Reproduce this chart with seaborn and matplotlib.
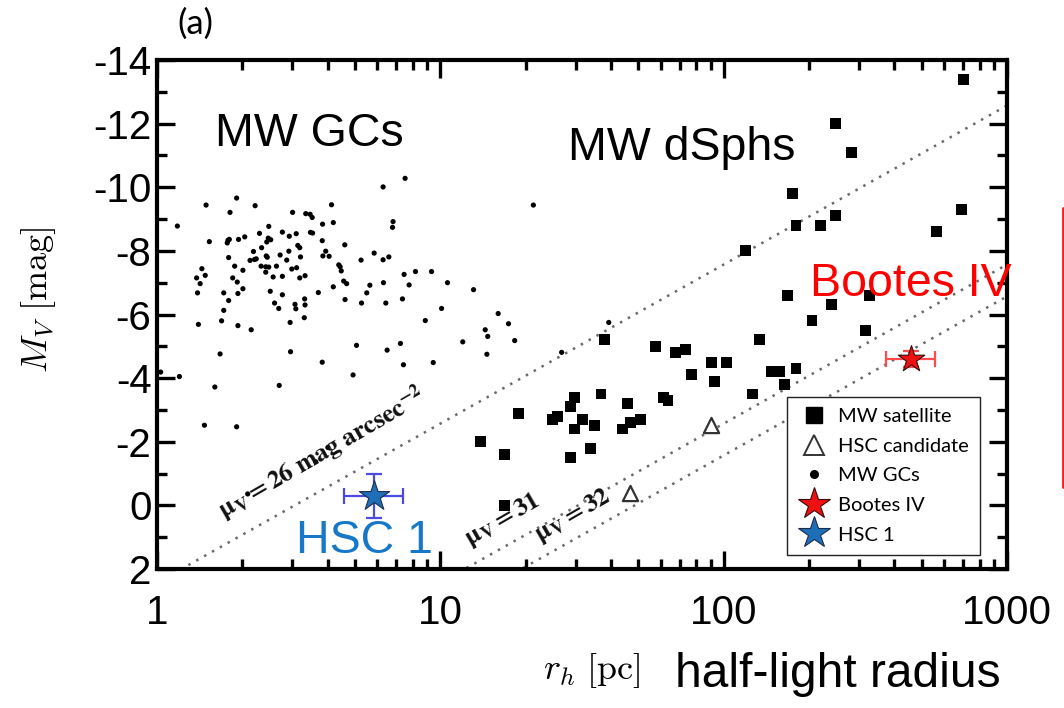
import numpy as np
import pandas as pd
import matplotlib
matplotlib.use("Agg")
import matplotlib.pyplot as plt
import seaborn as sns
from matplotlib.lines import Line2D
from matplotlib.ticker import FixedLocator, FixedFormatter, MultipleLocator, NullFormatter

# ---------------- data ----------------
sat_rh = [704, 249, 282, 175, 248, 691, 180, 220, 562, 119, 168, 327, 241, 317,
          37.9, 57.6, 67.6, 73.5, 90.3, 102.4, 77.2, 92.5, 134, 205, 147, 158, 180,
          164, 126, 61.4, 63.6, 18.9, 29.8, 36.9, 28.7, 26.0, 24.9, 31.8, 29.8, 34.9,
          45.8, 43.8, 46.9, 50.8, 33.8, 28.7, 13.9, 16.9, 16.9]
sat_mv = [-13.4, -12.0, -11.1, -9.8, -9.1, -9.3, -8.8, -8.8, -8.6, -8.0, -6.6, -6.6, -6.3, -5.5,
          -5.2, -5.0, -4.8, -4.9, -4.5, -4.5, -4.1, -3.9, -5.2, -5.8, -4.2, -4.2, -4.3,
          -3.8, -3.5, -3.4, -3.3, -2.9, -3.4, -3.5, -3.1, -2.8, -2.7, -2.7, -2.4, -2.5,
          -3.2, -2.4, -2.6, -2.7, -1.8, -1.5, -2.0, -1.6, 0.0]

cand_rh = [89.9, 46.7]
cand_mv = [-2.52, -0.39]

gc_rh = [1.18, 1.49, 1.91, 1.81, 2.22, 1.53, 1.78, 1.77, 1.80, 1.94, 2.04, 1.79, 1.88, 2.01,
         1.44, 1.38, 1.48, 1.42, 1.39, 1.85, 1.92, 2.01, 1.93, 1.79, 1.72, 1.72, 1.69, 1.40,
         1.93, 2.15, 2.30, 2.48, 2.52, 2.47, 2.44, 2.34, 2.19, 2.13, 2.21, 2.24, 2.43, 2.45,
         2.33, 2.42, 2.48, 2.42, 2.57, 2.51, 2.60, 2.69, 2.64, 2.72, 2.77, 2.77, 2.87, 2.77,
         2.93, 2.92, 3.10, 3.14, 3.19, 3.21, 2.99, 3.11, 3.19, 3.33, 3.01, 3.35, 3.47, 3.53,
         3.48, 3.54, 3.84, 4.13, 4.19, 3.83, 3.94, 3.85, 4.05, 4.60, 5.25, 4.38, 4.43, 4.47,
         4.56, 4.67, 4.19, 3.71, 3.32, 3.33, 3.07, 3.09, 3.31, 2.95, 4.61, 5.27, 5.50, 5.64,
         5.06,
         6.28, 7.51, 6.81, 6.78, 21.3, 5.84, 6.28, 6.58, 7.45, 8.17, 9.31, 6.30, 7.76, 10.6,
         13.1, 6.42, 7.35, 10.1, 8.85,
         16.0, 17.4, 14.4, 14.7, 12.0, 18.3, 14.6, 9.44, 39.3, 26.8,
         1.67, 2.96, 3.83, 4.92, 6.49, 7.23, 7.41, 1.03, 1.20, 1.60, 2.70, 1.47, 1.91, 4.01,
         3.63, 2.09]
gc_mv = [-8.78, -9.44, -9.66, -9.21, -9.42, -8.29, -8.33, -8.25, -8.36, -8.36, -8.44, -7.79, -7.52, -7.39,
         -7.44, -7.15, -7.23, -6.97, -6.68, -7.15, -7.02, -6.81, -6.66, -6.44, -6.68, -6.13, -5.80, -5.69,
         -5.65, -5.52, -8.55, -8.77, -8.35, -8.40, -8.28, -8.10, -7.98, -7.70, -7.73, -7.75, -7.84, -7.80,
         -7.52, -7.50, -7.49, -7.33, -7.18, -6.73, -6.36, -6.19, -7.52, -7.87, -7.20, -6.62, -7.71, -8.59,
         -8.46, -7.99, -8.54, -8.17, -8.10, -7.81, -7.43, -7.47, -7.15, -7.22, -9.21, -9.17, -9.15, -9.05,
         -8.58, -8.56, -8.84, -9.45, -8.89, -8.32, -7.99, -7.84, -7.83, -8.19, -7.71, -7.56, -7.50, -7.37,
         -7.05, -6.97, -6.87, -6.69, -6.49, -6.30, -6.32, -6.18, -5.90, -5.75, -6.47, -6.36, -6.68, -6.92,
         -5.03,
         -10.01, -10.28, -8.92, -8.74, -9.44, -7.93, -7.72, -7.81, -7.26, -7.35, -7.35, -7.0, -6.93, -7.0,
         -6.78, -6.36, -6.49, -6.19, -5.81,
         -6.03, -5.71, -5.52, -5.31, -5.14, -5.18, -4.75, -4.49, -5.75, -4.81,
         -4.76, -4.83, -4.50, -4.10, -4.88, -5.09, -4.42, -4.19, -4.05, -3.72, -3.77, -2.52, -2.47, -1.82,
         -1.37, -0.36]

boo_rh = [460]
boo_mv = [-4.6]
boo_rh_lo = [374]
boo_rh_hi = [558]
boo_mv_err = [0.25]

hsc_rh = [5.82]
hsc_mv = [-0.3]
hsc_rh_lo = [4.58]
hsc_rh_hi = [7.40]
hsc_mv_err = [0.7]

mu_levels = [26, 31, 32]
mu_zero = 23.57          # mu = M + 23.57 + 5 log10(r_h / pc)

x_ticks = [1, 10, 100, 1000]
x_ticklabels = ["1", "10", "100", "1000"]
y_ticks = [-14, -12, -10, -8, -6, -4, -2, 0, 2]
y_ticklabels = ["-14", "-12", "-10", "-8", "-6", "-4", "-2", "0", "2"]

# ---------------- style ----------------
sns.set_style("ticks")
plt.rcParams["font.family"] = ["Liberation Sans", "DejaVu Sans"]
plt.rcParams["mathtext.fontset"] = "cm"
plt.rcParams["axes.unicode_minus"] = False
plt.rcParams["text.color"] = "black"
plt.rcParams["xtick.color"] = "black"
plt.rcParams["ytick.color"] = "black"
plt.rcParams["axes.labelcolor"] = "black"

W, H = 1064, 708
fig = plt.figure(figsize=(W / 100, H / 100), dpi=100)
fig.patch.set_facecolor("white")
ax = fig.add_axes([157 / W, 1 - 569 / H, (1007 - 157) / W, (569 - 60) / H])


def ftext(x, y, s, **kw):
    return fig.text(x / W, 1 - y / H, s, **kw)


# ---------------- constant surface-brightness lines ----------------
r_line = np.logspace(0, 3, 300)
for mu in mu_levels:
    df_line = pd.DataFrame({"r": r_line, "M": mu - mu_zero - 5 * np.log10(r_line)})
    sns.lineplot(data=df_line, x="r", y="M", ax=ax, color="#6a6a6a", lw=1.8,
                 linestyle=(0, (1, 2.6)), legend=False, zorder=1)

# ---------------- points ----------------
sns.scatterplot(x=gc_rh, y=gc_mv, marker="o", s=14, color="black", edgecolor="none",
                ax=ax, legend=False, zorder=3)
sns.scatterplot(x=sat_rh, y=sat_mv, marker="s", s=62, color="black", edgecolor="none",
                ax=ax, legend=False, zorder=3)
sns.scatterplot(x=cand_rh, y=cand_mv, marker="^", s=120, color="white", edgecolor="#333333",
                linewidth=1.6, ax=ax, legend=False, zorder=3)

ax.errorbar(hsc_rh, hsc_mv,
            xerr=[[hsc_rh[0] - hsc_rh_lo[0]], [hsc_rh_hi[0] - hsc_rh[0]]],
            yerr=[hsc_mv_err], fmt="none", ecolor="#4a4ae6", elinewidth=1.6,
            capsize=6, capthick=1.6, zorder=4)
sns.scatterplot(x=hsc_rh, y=hsc_mv, marker="*", s=520, color="#1f6fb8", edgecolor="#1b2d4f",
                linewidth=0.8, ax=ax, legend=False, zorder=5)

ax.errorbar(boo_rh, boo_mv,
            xerr=[[boo_rh[0] - boo_rh_lo[0]], [boo_rh_hi[0] - boo_rh[0]]],
            yerr=[boo_mv_err], fmt="none", ecolor="#ff4b4b", elinewidth=1.6,
            capsize=6, capthick=1.6, zorder=4)
sns.scatterplot(x=boo_rh, y=boo_mv, marker="*", s=400, color="#ee1111", edgecolor="#3a0a0a",
                linewidth=0.8, ax=ax, legend=False, zorder=5)

# ---------------- axes ----------------
ax.set_xscale("log")
ax.set_xlim(1, 1000)
ax.set_ylim(2, -14)
ax.xaxis.set_major_locator(FixedLocator(x_ticks))
ax.xaxis.set_major_formatter(FixedFormatter(x_ticklabels))
ax.xaxis.set_minor_locator(FixedLocator([m * d for d in (1, 10, 100) for m in range(2, 10)]))
ax.xaxis.set_minor_formatter(NullFormatter())
ax.yaxis.set_major_locator(FixedLocator(y_ticks))
ax.yaxis.set_major_formatter(FixedFormatter(y_ticklabels))
ax.yaxis.set_minor_locator(MultipleLocator(1))
ax.tick_params(which="both", direction="in", top=True, right=True, width=2.4, colors="black")
ax.tick_params(which="major", length=13)
ax.tick_params(which="minor", length=7)
ax.tick_params(axis="x", which="major", labelsize=29, pad=18)
ax.tick_params(axis="y", which="major", labelsize=29, pad=4)
for sp in ax.spines.values():
    sp.set_linewidth(3)
    sp.set_color("black")
ax.set_xlabel("")
ax.set_ylabel("")

# ---------------- surface-brightness labels ----------------
lab_kw = dict(rotation=30, rotation_mode="anchor", ha="center", va="center",
              fontsize=18.5, color="#111111", math_fontfamily="stix")
ftext(322, 453, r"$\mathbf{\mu_V = 26\ mag\ arcsec^{-2}}$", **lab_kw)
ftext(503, 520, r"$\mathbf{\mu_V = 31}$", **lab_kw)
ftext(573, 516, r"$\mathbf{\mu_V = 32}$", **lab_kw)

# ---------------- annotations ----------------
ftext(195, 24, "(a)", fontsize=25, family="Lato", ha="center", va="center")
ftext(215, 146, "MW GCs", fontsize=33.5, ha="left", va="baseline")
ftext(568, 160, "MW dSphs", fontsize=33.5, ha="left", va="baseline")
ftext(810, 296, "Bootes IV", fontsize=33.5, ha="left", va="baseline", color="#ff0000")
ftext(296, 553, "HSC 1", fontsize=33.5, ha="left", va="baseline", color="#1878c8")
ftext(675, 687, "half-light radius", fontsize=34.5, ha="left", va="baseline")
ftext(592, 670, r"$r_h\ [\mathrm{pc}]$", fontsize=26, ha="center", va="center")
ftext(38, 300, r"$M_V\ [\mathrm{mag}]$", fontsize=26, ha="center", va="center", rotation=90)

fig.add_artist(Line2D([1062.5 / W, 1062.5 / W], [1 - 208 / H, 1 - 487 / H],
                      color="#ff1a1a", lw=2, transform=fig.transFigure))

# ---------------- legend ----------------
handles = [
    Line2D([], [], marker="s", ls="", color="black", ms=11),
    Line2D([], [], marker="^", ls="", mfc="white", mec="#333333", mew=1.4, ms=15),
    Line2D([], [], marker="o", ls="", color="black", ms=5.5),
    Line2D([], [], marker="*", ls="", mfc="#ee1111", mec="#3a0a0a", mew=0.8, ms=24),
    Line2D([], [], marker="*", ls="", mfc="#1f6fb8", mec="#1b2d4f", mew=0.8, ms=24),
]
labels = ["MW satellite", "HSC candidate", "MW GCs", "Bootes IV", "HSC 1"]
leg = ax.legend(handles, labels, loc="upper left",
                bbox_to_anchor=(787 / W, 1 - 397 / H), bbox_transform=fig.transFigure,
                borderaxespad=0, frameon=True, fancybox=False, framealpha=1,
                edgecolor="#222222", prop={"family": "Lato", "size": 14.5},
                labelspacing=0.62, handletextpad=0.4, handlelength=1.6,
                borderpad=0.55)
leg.get_frame().set_linewidth(1.0)

fig.savefig("out.png", dpi=100, facecolor="white")
